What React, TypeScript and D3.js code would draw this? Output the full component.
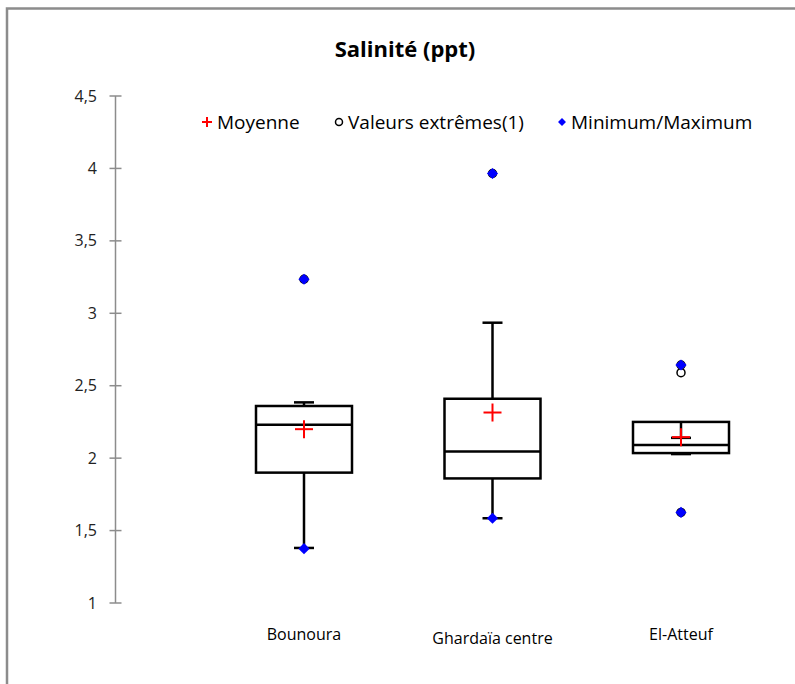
import React from "react";
import * as d3 from "d3";

// Salinity summary per site (ppt)
const categories = ["Bounoura", "Ghardaïa centre", "El-Atteuf"];
const q1 = [1.9, 1.86, 2.035];
const median = [2.23, 2.045, 2.09];
const q3 = [2.36, 2.41, 2.25];
const whiskerLow = [1.38, 1.585, 2.028];
const whiskerHigh = [2.385, 2.935, 2.14];
const mean = [2.2, 2.315, 2.145];
const minimum = [1.375, 1.585, 1.625];
const maximum = [3.235, 3.965, 2.643];
const outliers = [[3.235], [3.965], [2.643, 2.59, 1.625]];
const yTicks = [1, 1.5, 2, 2.5, 3, 3.5, 4, 4.5];

const W = 795;
const H = 684;
const FONT = "'Open Sans', 'Liberation Sans', sans-serif";

export default function App() {
  const y = d3.scaleLinear().domain([1, 4.5]).range([603, 96]);
  const x = d3.scaleLinear().domain([0, 1]).range([115.5, 304]);
  const fmt = (v: number) => String(v).replace(".", ",");
  const boxHalf = 48;
  const capHalf = 10;
  const axisX = x(0);
  const diamond = d3.symbol().type(d3.symbolDiamond2).size(80);
  const labelDy = [0, 4, 0];

  return (
    <div style={{ position: "absolute", left: 0, top: 0 }}>
      <svg width={W} height={H} style={{ display: "block", background: "#fff" }}>
        <rect x={7} y={8.5} width={W + 10} height={H + 10} fill="#fff" stroke="#8c8c8c" strokeWidth={2.5} />

        <text x={405} y={57} textAnchor="middle" fontFamily={FONT} fontWeight="bold" fontSize={22} fill="#000">
          Salinité (ppt)
        </text>

        {/* y axis */}
        <line x1={axisX} x2={axisX} y1={y(4.5)} y2={y(1)} stroke="#8c8c8c" strokeWidth={1.5} />
        {yTicks.map((t) => (
          <g key={t}>
            <line x1={axisX - 6} x2={axisX + 6} y1={y(t)} y2={y(t)} stroke="#8c8c8c" strokeWidth={1.5} />
            <text x={97} y={y(t)} dy="0.35em" textAnchor="end" fontFamily={FONT} fontSize={16} fill="#222">
              {fmt(t)}
            </text>
          </g>
        ))}

        {/* boxes */}
        {categories.map((c, i) => {
          const cx = x(i + 1);
          return (
            <g key={c}>
              <line x1={cx} x2={cx} y1={y(whiskerHigh[i])} y2={y(q3[i])} stroke="#000" strokeWidth={2.5} />
              <line x1={cx} x2={cx} y1={y(q1[i])} y2={y(whiskerLow[i])} stroke="#000" strokeWidth={2.5} />
              <line x1={cx - capHalf} x2={cx + capHalf} y1={y(whiskerHigh[i])} y2={y(whiskerHigh[i])} stroke="#000" strokeWidth={2.5} />
              <line x1={cx - capHalf} x2={cx + capHalf} y1={y(whiskerLow[i])} y2={y(whiskerLow[i])} stroke="#000" strokeWidth={2.5} />
              <rect
                x={cx - boxHalf}
                y={y(q3[i])}
                width={boxHalf * 2}
                height={y(q1[i]) - y(q3[i])}
                fill="none"
                stroke="#000"
                strokeWidth={2.5}
              />
              <line x1={cx - boxHalf} x2={cx + boxHalf} y1={y(median[i])} y2={y(median[i])} stroke="#000" strokeWidth={2.5} />
              {outliers[i].map((o, k) => (
                <circle key={k} cx={cx} cy={y(o)} r={4} fill="#fff" stroke="#000" strokeWidth={1.5} />
              ))}
              <path d={diamond() as string} transform={`translate(${cx},${y(minimum[i])})`} fill="#0000ff" />
              <path d={diamond() as string} transform={`translate(${cx},${y(maximum[i])})`} fill="#0000ff" />
              <g stroke="#ff0000" strokeWidth={2}>
                <line x1={cx - 9} x2={cx + 9} y1={y(mean[i])} y2={y(mean[i])} />
                <line x1={cx} x2={cx} y1={y(mean[i]) - 9} y2={y(mean[i]) + 9} />
              </g>
              <text x={cx} y={640 + labelDy[i]} textAnchor="middle" fontFamily={FONT} fontSize={16} fill="#000">
                {c}
              </text>
            </g>
          );
        })}

        {/* legend */}
        <g fontFamily={FONT} fontSize={19} fill="#000">
          <g stroke="#ff0000" strokeWidth={2}>
            <line x1={202} x2={212} y1={122} y2={122} />
            <line x1={207} x2={207} y1={117} y2={127} />
          </g>
          <text x={217} y={122} dy="0.35em">Moyenne</text>
          <circle cx={339} cy={122} r={3.5} fill="#fff" stroke="#000" strokeWidth={1.5} />
          <text x={348} y={122} dy="0.35em">Valeurs extrêmes(1)</text>
          <path d={d3.symbol().type(d3.symbolDiamond2).size(40)() as string} transform="translate(562,122)" fill="#0000ff" />
          <text x={571} y={122} dy="0.35em">Minimum/Maximum</text>
        </g>
      </svg>
    </div>
  );
}
